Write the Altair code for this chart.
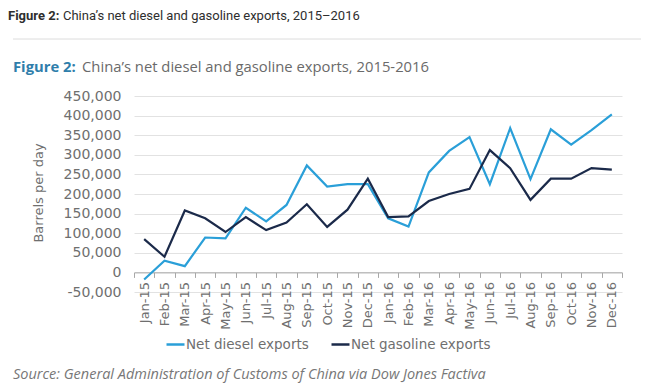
import altair as alt
import pandas as pd

months = ["Jan-15", "Feb-15", "Mar-15", "Apr-15", "May-15", "Jun-15", "Jul-15", "Aug-15",
          "Sep-15", "Oct-15", "Nov-15", "Dec-15", "Jan-16", "Feb-16", "Mar-16", "Apr-16",
          "May-16", "Jun-16", "Jul-16", "Aug-16", "Sep-16", "Oct-16", "Nov-16", "Dec-16"]
diesel = [-18000, 30000, 16000, 89000, 87000, 165000, 130000, 172000, 273000, 219000, 225000, 225000,
          138000, 117000, 255000, 310000, 345000, 225000, 368000, 238000, 365000, 326000, 363000, 403000]
gasoline = [85000, 40000, 158000, 138000, 103000, 141000, 108000, 127000, 174000, 116000, 160000, 239000,
            141000, 143000, 182000, 200000, 213000, 312000, 266000, 185000, 239000, 239000, 266000, 262000]
series_names = ["Net diesel exports", "Net gasoline exports"]
series_colors = ["#2a9fd8", "#1b2a4a"]
y_ticks = [-50000, 0, 50000, 100000, 150000, 200000, 250000, 300000, 350000, 400000, 450000]

header_bold = "Figure 2:"
header_rest = "China\u2019s net diesel and gasoline exports, 2015\u20132016"
title_bold = "Figure 2:"
title_rest = "China\u2019s net diesel and gasoline exports, 2015-2016"
y_title = "Barrels per day"
source = "Source: General Administration of Customs of China via Dow Jones Factiva"

rows = []
for m, d, g in zip(months, diesel, gasoline):
    rows.append({"month": m, "series": series_names[0], "value": d})
    rows.append({"month": m, "series": series_names[1], "value": g})
df = pd.DataFrame(rows)

W, H = 488, 196
LBL = "#6f6f6f"
FONT = "DejaVu Sans"

lines = alt.Chart(df).mark_line(strokeWidth=2.2).encode(
    x=alt.X("month:N", sort=months,
            scale=alt.Scale(type="band", paddingInner=0, paddingOuter=0),
            axis=alt.Axis(title=None, labelAngle=270, tickBand="extent", offset=-19.6,
                          grid=False, domainColor="#a8a8a8", tickColor="#a8a8a8", tickSize=5,
                          labelPadding=4, labelFont=FONT, labelFontSize=13, labelColor=LBL)),
    y=alt.Y("value:Q", scale=alt.Scale(domain=[-50000, 450000], nice=False),
            axis=alt.Axis(title=None, values=y_ticks, format=",d", domain=False, ticks=False,
                          labelExpr="replace(datum.label, '\u2212', '-')",
                          labelPadding=13, labelFont=FONT, labelFontSize=14, labelColor=LBL,
                          gridColor="#e2e2e2", gridWidth=1)),
    color=alt.Color("series:N", scale=alt.Scale(domain=series_names, range=series_colors),
                    legend=alt.Legend(title=None, orient="none", legendX=31, legendY=238,
                                      direction="horizontal", symbolType="stroke",
                                      symbolSize=324, symbolStrokeWidth=2.5, labelOffset=0,
                                      columnPadding=17, padding=0,
                                      labelFont=FONT, labelFontSize=13.5, labelColor=LBL)),
)


def txt(s, x, y, **kw):
    return alt.Chart(pd.DataFrame({"t": [s]})).mark_text(align="left", baseline="middle", **kw).encode(
        text="t:N", x=alt.value(x), y=alt.value(y))


header1 = txt(header_bold, -126, -80, font="Roboto", fontSize=13, fontWeight="bold", color="#2e2e2e")
header2 = txt(header_rest, -71, -80, font="Roboto", fontSize=13, color="#2e2e2e")
sep = alt.Chart(pd.DataFrame({"a": [0]})).mark_rule(color="#dcdcdc", strokeWidth=1).encode(
    x=alt.value(-121), x2=alt.value(507), y=alt.value(-57))
title1 = txt(title_bold, -121, -28, font="Open Sans", fontSize=14.8, fontWeight="bold", color="#2f7eab")
title2 = txt(title_rest, -52, -28, font="Open Sans", fontSize=14.8, color="#6a6a6a")
ytitle = alt.Chart(pd.DataFrame({"t": [y_title]})).mark_text(
    align="center", baseline="middle", angle=270, font=FONT, fontSize=13, color=LBL).encode(
    text="t:N", x=alt.value(-95), y=alt.value(97))
src = txt(source, -121, 279, font="Open Sans", fontSize=14.5, fontStyle="italic", color="#777777")

chart = alt.layer(lines, header1, header2, sep, title1, title2, ytitle, src).properties(
    width=W, height=H,
    autosize=alt.AutoSizeParams(type="none"),
    padding={"left": 126, "top": 88, "right": 20, "bottom": 92},
).configure_view(stroke=None)

chart.save("out.html", embed_options={"renderer": "svg", "actions": False})
